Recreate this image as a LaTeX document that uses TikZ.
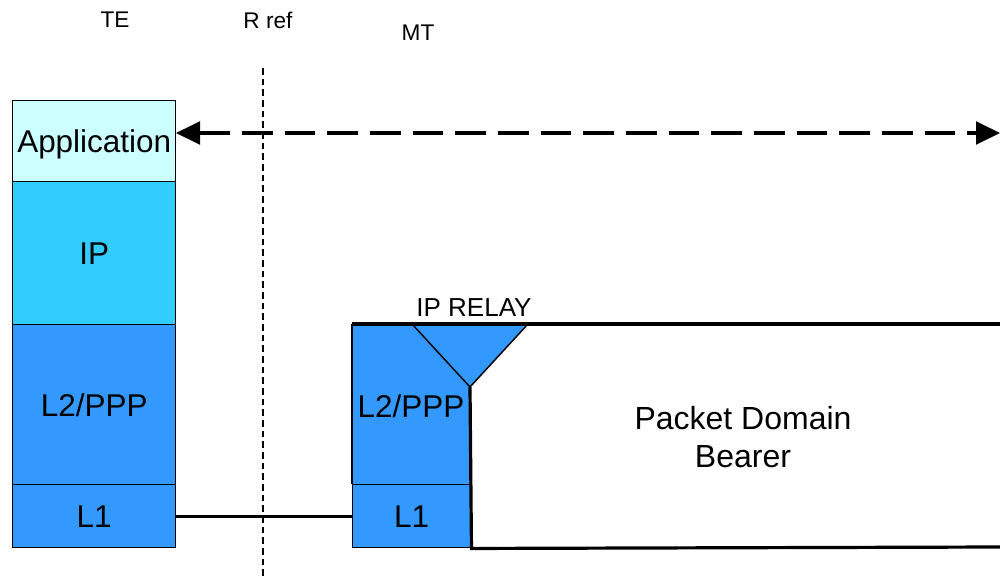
\documentclass[tikz,border=0pt]{standalone}
\usepackage{fontspec}
\setmainfont{Liberation Sans}
\usetikzlibrary{arrows.meta}
\definecolor{appc}{HTML}{CCFFFF}
\definecolor{ipc}{HTML}{33CCFF}
\definecolor{l2c}{HTML}{3399FF}
\begin{document}
\begin{tikzpicture}[x=0.75pt,y=-0.75pt,
  layer/.style={draw=black, line width=1.1pt, anchor=north west, inner sep=0pt,
    font=\fontsize{23.6}{26}\selectfont, text depth=0pt, minimum width=122.25pt},
  toplabel/.style={font=\fontsize{17}{19}\selectfont, inner sep=0pt},
  thickline/.style={line width=2.4pt},
  thinline/.style={line width=1.1pt},
  refline/.style={line width=0.8pt, dash pattern=on 5pt off 3pt},
  peerarrow/.style={line width=2.4pt, dash pattern=on 23pt off 9pt,
    {Triangle[length=18pt,width=17pt]}-{Triangle[length=18pt,width=17pt]}}
]
\useasboundingbox (0,0) rectangle (1000,578);

% TE stack
\node[layer, fill=appc, minimum height=60.75pt] (app) at (12,100) {Application};
\node[layer, fill=ipc, minimum height=107.25pt] (ip) at (12,181) {IP};
\node[layer, fill=l2c, minimum height=120pt] (l2te) at (12,324) {L2/PPP};
\node[layer, fill=l2c, minimum height=47.25pt] (l1te) at (12,484) {L1};

% MT stack
\node[layer, draw=none, fill=l2c, minimum width=88.5pt, minimum height=120pt] (l2mt) at (352,324) {};
\coordinate (r1) at (412,324);
\coordinate (r2) at (528,324);
\coordinate (r3) at (470,387);
\fill[l2c] (r1) -- (r2) -- (r3) -- cycle;
\draw[thinline] (r1) -- (r3) -- (r2);
\node[font=\fontsize{23.6}{26}\selectfont, inner sep=0pt, text depth=0pt] (l2mttext) at (411,406) {L2/PPP};
\node[layer, fill=l2c, minimum width=88.5pt, minimum height=47.25pt] (l1mt) at (352,484) {L1};
\draw[thinline] (l1mt.north west) -- (l2mt.north west);

% bearer
\coordinate (b1) at (1000,324);
\coordinate (b2) at (1000,547);
\draw[thickline] (l2mt.north west) -- (b1);
\draw[thickline] (r3) -- (l1mt.south east) -- (b2);
\node[font=\fontsize{19.5}{22}\selectfont, inner sep=0pt] (relay) at (474,308) {IP RELAY};
\node[font=\fontsize{24}{28.5}\selectfont, align=center, inner sep=0pt] (pdb) at (743,437) {Packet Domain\\Bearer};

% L1 link
\draw[thickline] (l1te.east) -- (l1mt.west);

% reference point
\coordinate (rtop) at (263,68);
\coordinate (rbot) at (263,578);
\draw[refline] (rtop) -- (rbot);

% peer arrow
\coordinate (a1) at (176,133);
\coordinate (a2) at (1000,133);
\draw[peerarrow] (a1) -- (a2);

% top labels
\node[toplabel] (te) at (115,20) {TE};
\node[toplabel] (rref) at (268,20) {R ref};
\node[toplabel] (mt) at (418,33) {MT};
\end{tikzpicture}
\end{document}
